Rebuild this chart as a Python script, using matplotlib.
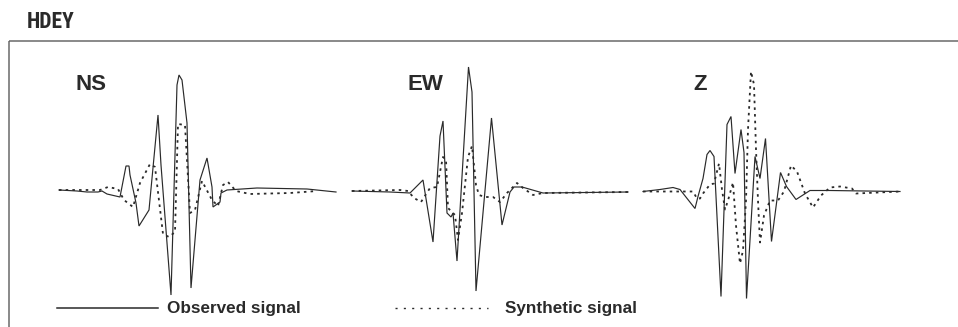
import matplotlib
matplotlib.use("Agg")
import matplotlib.pyplot as plt
from matplotlib import font_manager
from matplotlib.patches import Rectangle
from matplotlib.lines import Line2D

# ---- waveform data (time in s, normalised amplitude) ----
station = "HDEY"
components = ["NS", "EW", "Z"]

ns_obs_t = [0, 3.6, 5.6, 7.8, 8.6, 9.6, 12.2, 13.4, 14.0, 14.2, 15.4, 16.0, 18.0, 19.8, 20.4,
            22.4, 23.6, 24.0, 24.6, 25.6, 26.4, 28.2, 29.6, 30.6, 30.8, 32.2, 32.4, 33.6, 39.6,
            49.6, 55.4]
ns_obs_a = [0, -0.01, -0.02, -0.02, -0.01, -0.04, -0.07, 0.24, 0.24, 0.15, -0.13, -0.36, -0.20,
            0.75, 0.25, -1.05, 1.05, 1.15, 1.10, 0.67, -0.98, 0.10, 0.32, 0.03, -0.17, -0.12,
            -0.03, 0, 0.02, 0.01, -0.02]
ns_syn_t = [0, 8.2, 9.8, 11.8, 13.0, 14.8, 16.2, 18.2, 19.2, 20.8, 22.0, 23.2, 23.8, 25.2, 26.2,
            27.2, 28.6, 30.6, 31.8, 32.8, 33.8, 35.4, 38.2, 46.2, 51.6]
ns_syn_a = [0, 0, 0.03, 0.01, -0.10, -0.17, 0.07, 0.26, 0.23, -0.44, -0.47, -0.42, 0.66, 0.65,
            -0.23, -0.20, 0.09, -0.10, -0.16, 0.05, 0.08, -0.01, -0.04, -0.03, -0.01]

ew_obs_t = [0, 7.6, 11.6, 14.2, 16.2, 17.6, 18.2, 19.0, 19.8, 20.2, 21.0, 23.3, 24.0, 24.8,
            27.9, 30.0, 31.6, 32.4, 34.0, 38.2, 55.2]
ew_obs_a = [0, -0.01, -0.02, 0.11, -0.51, 0.55, 0.70, -0.22, -0.26, -0.22, -0.70, 1.24, 0.99,
            -1.00, 0.73, -0.34, -0.01, 0.04, 0.04, -0.02, -0.01]
ew_syn_t = [0, 9.6, 11.2, 12.4, 13.8, 15.6, 17.0, 18.2, 18.8, 19.2, 20.6, 21.2, 22.0, 23.2,
            24.0, 24.8, 25.4, 26.6, 28.2, 29.6, 31.0, 33.0, 34.2, 36.2, 38.2, 55.2]
ew_syn_a = [0, 0.01, 0, -0.07, -0.11, 0.03, 0.04, 0.34, 0.31, -0.17, -0.24, -0.49, -0.22, 0.34,
            0.45, 0.06, -0.04, -0.06, -0.06, -0.11, -0.02, 0.08, 0.03, -0.04, -0.02, -0.01]

z_obs_t = [0, 3.4, 6.0, 7.4, 10.4, 11.0, 12.0, 12.8, 13.4, 14.2, 15.6, 16.8, 17.6, 18.4, 19.6,
           20.2, 20.7, 22.4, 23.4, 24.5, 25.7, 27.5, 28.7, 30.6, 33.4, 37.4, 51.4]
z_obs_a = [0, 0.02, 0.04, 0.02, -0.17, -0.05, 0.13, 0.37, 0.41, 0.35, -1.05, 0.67, 0.75, 0.18,
           0.62, 0.39, -1.07, 0.35, 0.13, 0.53, -0.50, 0.19, 0.05, -0.08, 0.01, 0.01, 0]
z_syn_t = [0, 8.8, 10.0, 10.8, 11.4, 12.0, 13.4, 14.2, 15.2, 15.8, 16.4, 17.0, 18.0, 18.6, 19.4,
           20.0, 20.6, 21.0, 21.6, 22.2, 22.6, 23.0, 23.4, 24.2, 25.4, 27.0, 28.2, 29.6, 30.8,
           32.4, 34.0, 35.6, 37.4, 39.4, 41.8, 42.6, 51.4]
z_syn_a = [0, 0, 0, -0.07, -0.07, -0.02, 0.07, 0.08, 0.28, 0.02, -0.18, -0.09, 0.09, -0.34,
           -0.72, -0.59, -0.09, 0.62, 1.20, 1.07, 0.42, -0.09, -0.51, -0.24, -0.09, -0.09, 0,
           0.26, 0.20, -0.02, -0.16, -0.04, 0.04, 0.05, 0.03, -0.02, 0]

legend_labels = ["Observed signal", "Synthetic signal"]

# ---- layout ----
W, H = 958, 327
DPI = 100
fig = plt.figure(figsize=(W / DPI, H / DPI), dpi=DPI)
fig.patch.set_facecolor("white")

# a bold condensed face for the station name, if one is installed
bold_faces = {}
for f in font_manager.fontManager.ttflist:
    w = f.weight if isinstance(f.weight, int) else 400
    bold_faces.setdefault(f.name, set()).add(w)
narrow = "Liberation Sans"
for cand in ["Roboto Condensed", "Asap Condensed", "Sofia Sans Condensed",
             "Open Sans Condensed", "Archivo Narrow"]:
    if cand in bold_faces and max(bold_faces[cand]) >= 700:
        narrow = cand
        break
plt.rcParams["font.family"] = ["Liberation Sans", "DejaVu Sans"]

ink = "#2a2a2a"
dot_style = (0, (1.4, 2.3))

# overlay axes in pixel units for frame, titles and key
ov = fig.add_axes([0, 0, 1, 1])
ov.set_xlim(0, W)
ov.set_ylim(H, 0)
ov.axis("off")

ov.add_patch(Rectangle((9.5, 40.5), 1000, 400, fill=False, edgecolor="#6a6a6a", lw=1.1))
ov.text(26.5, 22.5, station, fontsize=15.5, fontweight="bold", family=[narrow, "DejaVu Sans"],
        color=ink, va="center", ha="left")

# panel origins in pixels: (left edge, baseline)
panels = [
    ("NS", 59, 190, ns_obs_t, ns_obs_a, ns_syn_t, ns_syn_a, 76),
    ("EW", 352, 191, ew_obs_t, ew_obs_a, ew_syn_t, ew_syn_a, 408),
    ("Z", 643, 191.5, z_obs_t, z_obs_a, z_syn_t, z_syn_a, 693),
]

px_per_s = 5.0
px_per_amp = 100.0
tmax = 56.0
amp_lo, amp_hi = -1.3, 1.3

for name, x0, y0, ot, oa, st, sa, lx in panels:
    left = x0 / W
    width = tmax * px_per_s / W
    top_px = y0 - amp_hi * px_per_amp
    bot_px = y0 - amp_lo * px_per_amp
    ax = fig.add_axes([left, (H - bot_px) / H, width, (bot_px - top_px) / H])
    ax.set_xlim(0, tmax)
    ax.set_ylim(amp_lo, amp_hi)
    ax.axis("off")
    ax.patch.set_alpha(0)
    ax.plot(ot, oa, color=ink, lw=0.85, solid_joinstyle="miter", clip_on=False)
    ax.plot(st, sa, color=ink, lw=1.3, linestyle=dot_style, clip_on=False)
    ov.text(lx, 84, name, fontsize=16, fontweight="bold", color=ink, va="center", ha="left")

# key
ov.add_line(Line2D([57, 158], [308, 308], color=ink, lw=1.1))
ov.text(167, 308, legend_labels[0], fontsize=12.3, fontweight="bold", color=ink,
        va="center", ha="left")
ov.add_line(Line2D([395, 488], [308, 308], color=ink, lw=1.0, linestyle=(0, (1.5, 4.5))))
ov.text(505, 308, legend_labels[1], fontsize=12.3, fontweight="bold", color=ink,
        va="center", ha="left")

fig.savefig("out.png", dpi=DPI)
